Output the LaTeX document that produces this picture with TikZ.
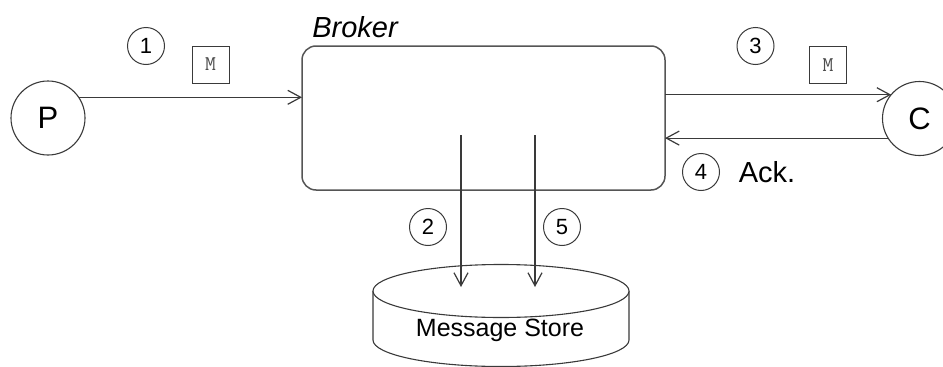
\documentclass[tikz,border=0pt]{standalone}
\usepackage{fontspec}
\setmainfont{Liberation Sans}
\usetikzlibrary{arrows.meta,shapes.geometric}
\definecolor{ln}{HTML}{3A3A3A}
\definecolor{bx}{HTML}{555555}
\begin{document}
\begin{tikzpicture}[x=1pt,y=-1pt,
  every node/.style={inner sep=0pt,outer sep=0pt},
  actor/.style={circle,draw=ln,line width=1.1pt,minimum size=74pt,font=\fontsize{31}{31}\selectfont},
  numc/.style={circle,draw=ln,line width=1.0pt,minimum size=37pt,font=\fontsize{22}{22}\selectfont},
  msg/.style={draw=ln,line width=1.0pt,minimum size=37pt,font=\ttfamily\fontsize{21}{21}\selectfont,text=black!70},
  conn/.style={draw=ln,line width=1.2pt,-{Straight Barb[length=13pt,width=14pt,line width=1.2pt]}},
  lbl/.style={font=\fontsize{29}{29}\selectfont}]
\useasboundingbox (0,0) rectangle (943,367);
% nodes
\node[actor] (P) at (48,118) {P};
\node[actor] (C) at (919.5,118.5) {C};
\node[draw=bx,line width=1.5pt,rounded corners=14pt,minimum width=363pt,minimum height=144pt] (B) at (483.5,118) {};
\node[font=\itshape\fontsize{29}{29}\selectfont] (BL) at (355,27) {Broker};
\node[numc] (n1) at (146,46) {1};
\node[msg] (m1) at (210.5,64.5) {M};
\node[numc] (n3) at (755.5,46) {3};
\node[msg] (m3) at (828,65) {M};
\node[numc] (n4) at (701,172) {4};
\node[lbl] (ack) at (767,172) {Ack.};
\node[numc] (n2) at (428,227) {2};
\node[numc] (n5) at (562,227) {5};
% cylinder (message store)
\draw[ln,line width=1.1pt,fill=white] (373,291) -- (373,340) arc[start angle=180,end angle=0,x radius=128,y radius=26.5] -- (629,291);
\draw[ln,line width=1.1pt,fill=white] (501,291) ellipse[x radius=128,y radius=26.5];
\node[font=\fontsize{25}{25}\selectfont] (MS) at (500,330) {Message Store};
\coordinate (s2) at (461,287);
\coordinate (s5) at (535,287);
\coordinate (t2) at (461,135);
\coordinate (t5) at (535,135);
% connectors
\draw[conn] (P.34.6) -- (B.west |- P.34.6);
\draw[conn] (B.east |- C.140) -- (C.140);
\draw[conn] (C.212.3) -- (B.east |- C.212.3);
\draw[conn] (t2) -- (s2);
\draw[conn] (t5) -- (s5);
\end{tikzpicture}
\end{document}
